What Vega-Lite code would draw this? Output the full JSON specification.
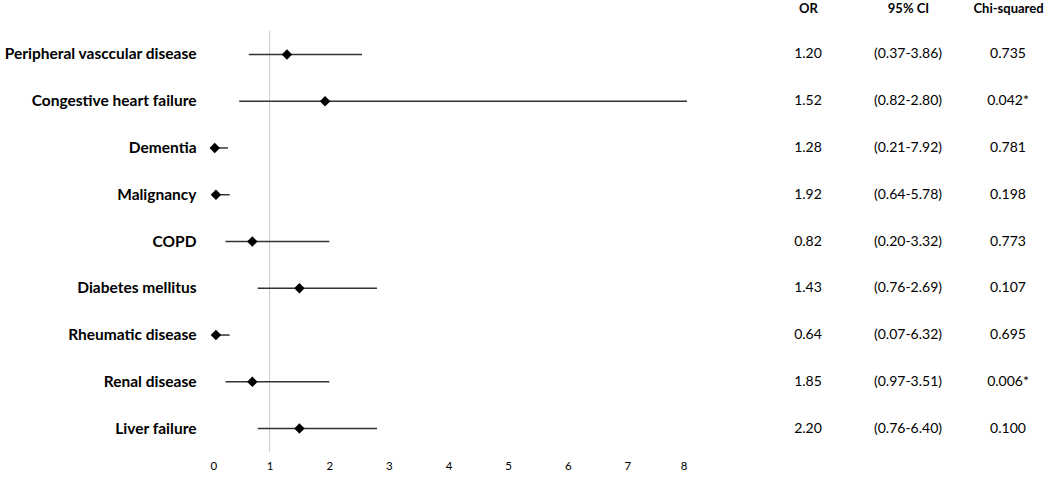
{
  "$schema": "https://vega.github.io/schema/vega-lite/v6.json",
  "background": "white",
  "padding": {"left": 3, "top": 2, "right": 0, "bottom": 0},
  "config": {"view": {"stroke": null}, "font": "Lato", "concat": {"spacing": 70}},
  "data": {"values": [
    {"cond": "Peripheral vasccular disease", "est": 1.29, "lo": 0.65, "hi": 2.55, "OR": "1.20", "95% CI": "(0.37-3.86)", "Chi-squared": "0.735"},
    {"cond": "Congestive heart failure", "est": 1.93, "lo": 0.49, "hi": 8.0, "OR": "1.52", "95% CI": "(0.82-2.80)", "Chi-squared": "0.042*"},
    {"cond": "Dementia", "est": 0.08, "lo": 0.05, "hi": 0.3, "OR": "1.28", "95% CI": "(0.21-7.92)", "Chi-squared": "0.781"},
    {"cond": "Malignancy", "est": 0.1, "lo": 0.07, "hi": 0.33, "OR": "1.92", "95% CI": "(0.64-5.78)", "Chi-squared": "0.198"},
    {"cond": "COPD", "est": 0.71, "lo": 0.26, "hi": 2.0, "OR": "0.82", "95% CI": "(0.20-3.32)", "Chi-squared": "0.773"},
    {"cond": "Diabetes mellitus", "est": 1.5, "lo": 0.8, "hi": 2.8, "OR": "1.43", "95% CI": "(0.76-2.69)", "Chi-squared": "0.107"},
    {"cond": "Rheumatic disease", "est": 0.1, "lo": 0.07, "hi": 0.33, "OR": "0.64", "95% CI": "(0.07-6.32)", "Chi-squared": "0.695"},
    {"cond": "Renal disease", "est": 0.71, "lo": 0.26, "hi": 2.0, "OR": "1.85", "95% CI": "(0.97-3.51)", "Chi-squared": "0.006*"},
    {"cond": "Liver failure", "est": 1.5, "lo": 0.8, "hi": 2.8, "OR": "2.20", "95% CI": "(0.76-6.40)", "Chi-squared": "0.100"}
  ]},
  "hconcat": [
    {
      "width": 477,
      "height": 421,
      "layer": [
        {
          "data": {"values": [{"ref": 1}]},
          "mark": {"type": "rule", "color": "#c8c8c8", "strokeWidth": 1},
          "encoding": {"x": {"field": "ref", "type": "quantitative", "scale": {"domain": [0, 8], "nice": false}}}
        },
        {
          "mark": {"type": "rule", "color": "#333333", "strokeWidth": 1.5},
          "encoding": {
            "y": {"field": "cond", "type": "nominal", "sort": null},
            "x": {"field": "lo", "type": "quantitative"},
            "x2": {"field": "hi"}
          }
        },
        {
          "mark": {"type": "point", "shape": "diamond", "filled": true, "color": "black", "size": 110, "opacity": 1},
          "encoding": {
            "y": {"field": "cond", "type": "nominal", "sort": null,
              "axis": {"title": null, "domain": false, "ticks": false, "labelFontWeight": "bold", "labelFontSize": 15.5, "labelPadding": 14, "labelColor": "black", "labelLimit": 400}},
            "x": {"field": "est", "type": "quantitative", "scale": {"domain": [0, 8], "nice": false},
              "axis": {"title": null, "values": [0, 1, 2, 3, 4, 5, 6, 7, 8], "format": "d", "grid": false, "domain": false, "ticks": false, "labelFontSize": 11.5, "labelPadding": 8, "labelColor": "black"}}
          }
        }
      ]
    },
    {
      "width": 300,
      "height": 421,
      "transform": [{"fold": ["OR", "95% CI", "Chi-squared"], "as": ["key", "value"]}],
      "mark": {"type": "text", "fontSize": 14, "color": "black"},
      "encoding": {
        "y": {"field": "cond", "type": "nominal", "sort": null, "axis": null},
        "x": {"field": "key", "type": "nominal", "sort": ["OR", "95% CI", "Chi-squared"],
          "axis": {"orient": "top", "title": null, "domain": false, "ticks": false, "labelFontWeight": "bold", "labelFontSize": 13, "labelPadding": 16, "labelColor": "black", "labelAngle": 0}},
        "text": {"field": "value", "type": "nominal"}
      }
    }
  ]
}
